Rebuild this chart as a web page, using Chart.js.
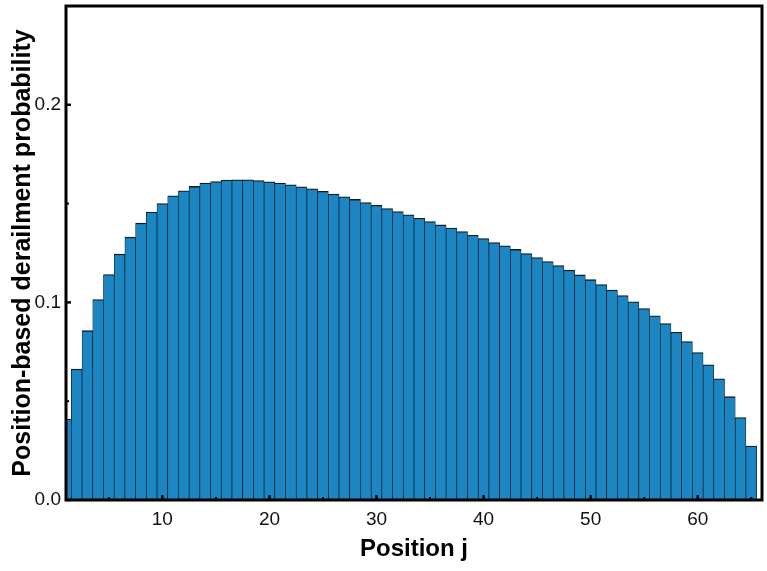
<!DOCTYPE html>
<html>
<head>
<meta charset="utf-8">
<script src="https://cdn.jsdelivr.net/npm/chart.js@4/dist/chart.umd.min.js"></script>
<style>
  html, body { margin: 0; padding: 0; background: #fff; }
  #wrap { width: 767px; height: 571px; }
</style>
</head>
<body>
<div id="wrap"><canvas id="c" width="767" height="571"></canvas></div>
<script>
// Positions along the sequence
const positions = [
  1, 2, 3, 4, 5, 6, 7, 8, 9, 10, 11, 12, 13, 14, 15, 16, 17, 18, 19, 20,
  21, 22, 23, 24, 25, 26, 27, 28, 29, 30, 31, 32, 33, 34, 35, 36, 37, 38, 39, 40,
  41, 42, 43, 44, 45, 46, 47, 48, 49, 50, 51, 52, 53, 54, 55, 56, 57, 58, 59, 60,
  61, 62, 63, 64, 65
];

// Derailment probability at each position
const probability = [
  0.0410, 0.0662, 0.0857, 0.1014, 0.1141, 0.1244, 0.1330, 0.1401, 0.1457, 0.1500,
  0.1539, 0.1565, 0.1587, 0.1604, 0.1612, 0.1619, 0.1620, 0.1620, 0.1617, 0.1610,
  0.1604, 0.1595, 0.1585, 0.1575, 0.1562, 0.1548, 0.1534, 0.1521, 0.1505, 0.1491,
  0.1475, 0.1460, 0.1443, 0.1426, 0.1409, 0.1392, 0.1376, 0.1359, 0.1340, 0.1323,
  0.1303, 0.1286, 0.1268, 0.1247, 0.1227, 0.1207, 0.1186, 0.1163, 0.1139, 0.1115,
  0.1090, 0.1062, 0.1035, 0.1003, 0.0969, 0.0932, 0.0893, 0.0849, 0.0802, 0.0746,
  0.0684, 0.0613, 0.0523, 0.0417, 0.0273
];

// Axis ticks
const xTicks = [10, 20, 30, 40, 50, 60];
const xMinorTicks = [5, 15, 25, 35, 45, 55, 65];
const yTicks = [0.0, 0.1, 0.2];
const yMinorTicks = [0.05, 0.15];

const FONT = "'Liberation Sans', Arial, sans-serif";

// Closed black frame with short inward tick marks
const framePlugin = {
  id: 'frame',
  afterDatasetsDraw(chart) {
    const { ctx, chartArea: a, scales: { x, y } } = chart;
    ctx.save();
    ctx.strokeStyle = '#000';
    ctx.lineCap = 'butt';
    const seg = (x1, y1, x2, y2) => { ctx.beginPath(); ctx.moveTo(x1, y1); ctx.lineTo(x2, y2); ctx.stroke(); };
    ctx.lineWidth = 2.5;
    xTicks.forEach(v => { const p = x.getPixelForValue(v); seg(p, a.bottom, p, a.bottom - 5); });
    yTicks.forEach(v => { const p = y.getPixelForValue(v); seg(a.left, p, a.left + 5, p); });
    ctx.lineWidth = 2;
    xMinorTicks.forEach(v => { const p = x.getPixelForValue(v); seg(p, a.bottom, p, a.bottom - 3); });
    yMinorTicks.forEach(v => { const p = y.getPixelForValue(v); seg(a.left, p, a.left + 3, p); });
    ctx.lineWidth = 3;
    ctx.strokeRect(a.left, a.top, a.right - a.left, a.bottom - a.top);
    ctx.restore();
  }
};

new Chart(document.getElementById('c'), {
  type: 'bar',
  data: {
    datasets: [{
      data: positions.map((p, i) => ({ x: p, y: probability[i] })),
      backgroundColor: '#1b86c1',
      borderColor: '#0e1c27',
      borderWidth: { top: 1.3, left: 0.7, right: 0.7, bottom: 0 },
      borderSkipped: false,
      barPercentage: 1.0,
      categoryPercentage: 1.0
    }]
  },
  options: {
    responsive: false,
    animation: false,
    devicePixelRatio: 1,
    layout: { padding: { top: 6, right: 5, left: 0, bottom: 0 } },
    plugins: { legend: { display: false }, tooltip: { enabled: false } },
    scales: {
      x: {
        type: 'linear',
        min: 1,
        max: 66,
        offset: false,
        grid: { display: false, drawTicks: false, offset: false },
        border: { display: false },
        afterFit(s) { s.height = 71; s.paddingLeft = 0; s.paddingRight = 0; },
        afterBuildTicks(s) { s.ticks = xTicks.map(v => ({ value: v })); },
        ticks: {
          padding: 8,
          maxRotation: 0,
          autoSkip: false,
          color: '#111',
          font: { family: FONT, size: 19 },
          callback: v => String(v)
        },
        title: {
          display: true,
          text: 'Position j',
          color: '#000',
          padding: { top: 0, bottom: 7 },
          font: { family: FONT, size: 24, weight: 'bold' }
        }
      },
      y: {
        type: 'linear',
        min: 0,
        max: 0.25,
        grid: { display: false, drawTicks: false },
        border: { display: false },
        afterFit(s) { s.width = 66; s.paddingTop = 0; s.paddingBottom = 0; },
        afterBuildTicks(s) { s.ticks = yTicks.map(v => ({ value: v })); },
        ticks: {
          padding: 5,
          color: '#111',
          font: { family: FONT, size: 19 },
          callback: v => v.toFixed(1)
        },
        title: {
          display: true,
          text: 'Position-based derailment probability',
          color: '#000',
          padding: { top: 8, bottom: 0 },
          font: { family: FONT, size: 25, weight: 'bold' }
        }
      }
    }
  },
  plugins: [framePlugin]
});
</script>
</body>
</html>
